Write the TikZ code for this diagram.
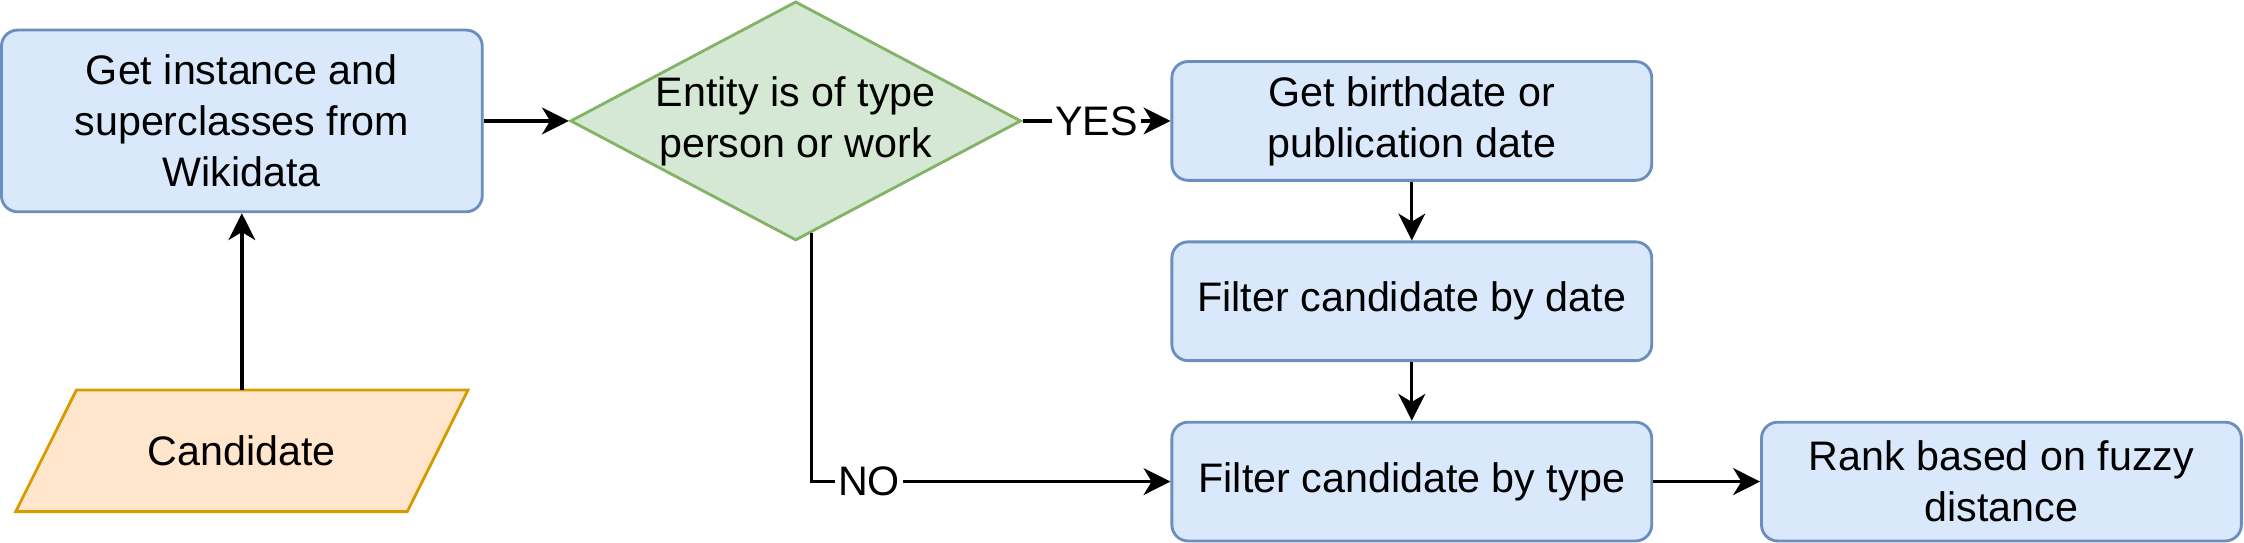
\documentclass[tikz,border=0pt]{standalone}
\usepackage{fontspec}
\setmainfont{Liberation Sans}
\usepackage{tikz}
\usetikzlibrary{shapes.geometric,arrows.meta,calc,backgrounds}

\definecolor{boxfill}{HTML}{DAE8FC}
\definecolor{boxline}{HTML}{6C8EBF}
\definecolor{decfill}{HTML}{D5E8D4}
\definecolor{decline}{HTML}{82B366}
\definecolor{candfill}{HTML}{FFE6CC}
\definecolor{candline}{HTML}{D79B00}

\begin{document}
\begin{tikzpicture}[
    font=\fontsize{12.3}{15.2}\selectfont,
    stepbox/.style={draw=boxline, fill=boxfill, line width=0.85pt, rounded corners=0.17cm, align=center, minimum width=5.03cm, minimum height=1.245cm, inner sep=0pt},
    decision/.style={diamond, draw=decline, fill=decfill, line width=0.85pt, minimum width=4.725cm, minimum height=2.505cm, inner sep=0pt},
    inputbox/.style={rectangle, minimum width=4.09cm, minimum height=1.26cm, inner sep=0pt},
    slanted/.style={draw=candline, fill=candfill, line width=0.85pt},
    flow/.style={-{Stealth[length=8pt,width=8pt,inset=2.4pt]}, line width=1pt},
    answer/.style={fill=white, inner sep=1pt}
]
    \useasboundingbox (0,0) rectangle (23.52,-5.685);

    % draw nodes
    \node[stepbox, minimum width=5.04cm, minimum height=1.905cm] (get) at (2.535,-1.2675) {Get instance and\\superclasses from\\Wikidata};
    \node[decision, label={[align=center]center:{Entity is of type\\person or work}}] (dec) at (8.34,-1.2675) {};
    \node[inputbox] (cand) at (2.535,-4.725) {Candidate};
    \node[stepbox] (birth) at (14.7975,-1.2675) {Get birthdate or\\publication date};
    \node[stepbox] (datef) at (14.7975,-3.1575) {Filter candidate by date};
    \node[stepbox] (typef) at (14.7975,-5.0475) {Filter candidate by type};
    \node[stepbox] (rank) at (20.9775,-5.0475) {Rank based on fuzzy\\distance};

    % draw input shape behind its text
    \begin{scope}[on background layer]
        \draw[slanted] ([xshift=0.318cm]cand.north west) -- ([xshift=0.318cm]cand.north east)
            -- ([xshift=-0.318cm]cand.south east) -- ([xshift=-0.318cm]cand.south west) -- cycle;
    \end{scope}

    % draw arrows
    \draw[flow] (cand) -- (get);
    \draw[flow] (get) -- (dec);
    \draw[flow] (dec) -- node[answer] {YES} (birth);
    \coordinate (noout) at ($(dec.south)!0.07!(dec.east)$);
    \draw[flow] (noout) |- node[answer, pos=0.58] {NO} (typef.west);
    \draw[flow] (birth) -- (datef);
    \draw[flow] (datef) -- (typef);
    \draw[flow] (typef) -- (rank);
\end{tikzpicture}
\end{document}
